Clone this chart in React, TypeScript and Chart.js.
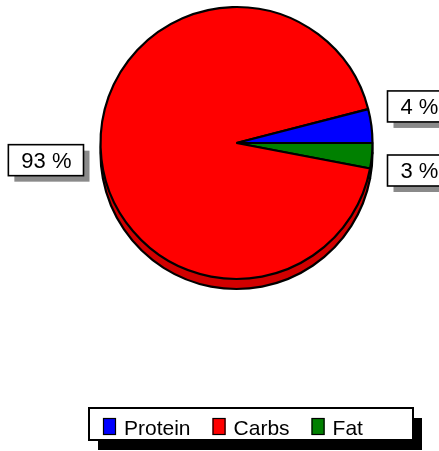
import React, { useEffect, useRef } from 'react';
import { Chart, registerables } from 'chart.js';

Chart.register(...registerables);

// ---- data ----
const categories = ['Protein', 'Carbs', 'Fat'];
const values = [4, 93, 3];
const colors = ['#0000ff', '#ff0000', '#008000'];
const rimColors = ['#0000c8', '#d20000', '#006400'];

const FONT = '"Liberation Sans", Arial, Helvetica, sans-serif';
const DEPTH = 10;

// the original pie runs counter-clockwise, so feed Chart.js the reversed order
const pieLabels = [...categories].reverse();
const pieValues = [...values].reverse();
const pieColors = [...colors].reverse();
const pieRims = [...rimColors].reverse();

const rimPlugin = {
  id: 'rim3d',
  beforeDatasetsDraw(chart: any) {
    const ctx = chart.ctx;
    const meta = chart.getDatasetMeta(0);
    ctx.save();
    meta.data.forEach((el: any, i: number) => {
      const p = el.getProps(['x', 'y', 'startAngle', 'endAngle', 'outerRadius'], true);
      ctx.beginPath();
      ctx.moveTo(p.x, p.y + DEPTH);
      ctx.arc(p.x, p.y + DEPTH, p.outerRadius, p.startAngle, p.endAngle);
      ctx.closePath();
      ctx.fillStyle = pieRims[i];
      ctx.fill();
      ctx.lineWidth = 2.2;
      ctx.strokeStyle = '#000';
      ctx.lineJoin = 'round';
      ctx.stroke();
    });
    ctx.restore();
  },
};

const labelPlugin = {
  id: 'boxLabels',
  afterDatasetsDraw(chart: any) {
    const ctx = chart.ctx;
    const meta = chart.getDatasetMeta(0);
    const data = chart.data.datasets[0].data as number[];
    const total = data.reduce((a, b) => a + b, 0);
    ctx.save();
    ctx.font = `22px ${FONT}`;
    meta.data.forEach((el: any, i: number) => {
      const p = el.getProps(['x', 'y', 'startAngle', 'endAngle', 'outerRadius'], true);
      const mid = (p.startAngle + p.endAngle) / 2;
      const text = `${Math.round((data[i] / total) * 100)} %`;
      const tw = ctx.measureText(text).width;
      const w = tw + 25;
      const h = 31;
      const right = Math.cos(mid) >= 0;
      const bx = right ? p.x + p.outerRadius + 15 : p.x - p.outerRadius - 17 - w;
      const cyLabel = p.y + Math.sin(mid) * 292 + (1 - Math.cos(mid)) * 4;
      const by = cyLabel - h / 2;
      // shadow
      ctx.fillStyle = '#8a8a8a';
      ctx.fillRect(bx + 6, by + 6, w, h);
      // box
      ctx.fillStyle = '#ffffff';
      ctx.fillRect(bx, by, w, h);
      ctx.lineWidth = 1.6;
      ctx.strokeStyle = '#000';
      ctx.strokeRect(bx, by, w, h);
      ctx.fillStyle = '#000';
      ctx.textBaseline = 'alphabetic';
      ctx.textAlign = 'left';
      ctx.fillText(text, bx + 13, cyLabel + 8);
    });
    ctx.restore();
  },
};

const legendPlugin = {
  id: 'boxLegend',
  afterDraw(chart: any) {
    const ctx = chart.ctx;
    const labels = [...(chart.data.labels as string[])].reverse();
    const bg = [...(chart.data.datasets[0].backgroundColor as string[])].reverse();
    const lx = 89, ly = 408, lw = 324, lh = 32;
    ctx.save();
    ctx.fillStyle = '#000';
    ctx.fillRect(lx + 9, ly + 10, lw, lh);
    ctx.fillStyle = '#fff';
    ctx.fillRect(lx, ly, lw, lh);
    ctx.lineWidth = 2;
    ctx.strokeStyle = '#000';
    ctx.strokeRect(lx, ly, lw, lh);
    ctx.font = `21px ${FONT}`;
    ctx.textBaseline = 'alphabetic';
    ctx.textAlign = 'left';
    let x = lx + 14;
    labels.forEach((lab, i) => {
      ctx.fillStyle = bg[i];
      ctx.fillRect(x, ly + 10, 13, 17);
      ctx.lineWidth = 1.2;
      ctx.strokeStyle = '#000';
      ctx.strokeRect(x + 0.5, ly + 10.5, 12, 16);
      x += 13 + 8;
      ctx.fillStyle = '#000';
      ctx.fillText(lab, x, ly + 27);
      x += ctx.measureText(lab).width + 22;
    });
    ctx.restore();
  },
};

export default function App() {
  const ref = useRef<HTMLCanvasElement | null>(null);
  useEffect(() => {
    if (!ref.current) return;
    const chart = new Chart(ref.current, {
      type: 'pie',
      data: {
        labels: pieLabels,
        datasets: [
          {
            data: pieValues,
            backgroundColor: pieColors,
            borderColor: '#000',
            borderWidth: 2.2,
            radius: 136,
            rotation: 90,
          } as any,
        ],
      },
      options: {
        animation: false,
        responsive: true,
        maintainAspectRatio: false,
        events: [],
        layout: { padding: { left: 100, right: 66, top: 6, bottom: 171 } },
        plugins: {
          legend: { display: false },
          tooltip: { enabled: false },
        },
      },
      plugins: [rimPlugin, labelPlugin, legendPlugin],
    });
    return () => chart.destroy();
  }, []);
  return (
    <div style={{ position: 'absolute', left: 0, top: 0, width: 439, height: 451, background: '#fff' }}>
      <canvas ref={ref} />
    </div>
  );
}
